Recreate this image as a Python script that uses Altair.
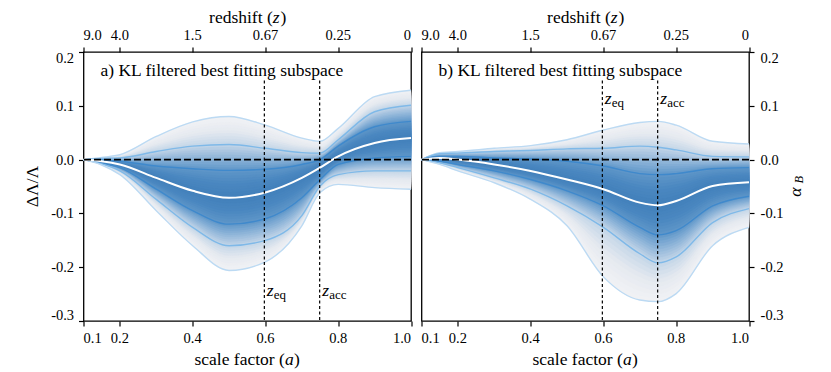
import altair as alt
import pandas as pd

# ---------------- data ----------------
a_vals = [0.1, 0.15, 0.2, 0.3, 0.4, 0.5, 0.6, 0.7, 0.75, 0.8, 0.9, 1.0]

left_u3 = [0.0, 0.004, 0.009, 0.043, 0.070, 0.080, 0.064, 0.040, 0.034, 0.058, 0.117, 0.129]
left_u2 = [0.0, 0.002, 0.003, 0.015, 0.025, 0.028, 0.021, 0.013, 0.012, 0.037, 0.089, 0.101]
left_u1 = [0.0, -0.001, -0.003, -0.012, -0.017, -0.020, -0.018, -0.009, 0.000, 0.025, 0.061, 0.071]
left_med = [0.0, -0.003, -0.009, -0.034, -0.058, -0.071, -0.061, -0.034, -0.015, 0.006, 0.031, 0.040]
left_l1 = [0.0, -0.006, -0.015, -0.055, -0.095, -0.120, -0.110, -0.071, -0.037, -0.009, 0.003, 0.006]
left_l2 = [0.0, -0.008, -0.021, -0.074, -0.126, -0.160, -0.150, -0.104, -0.049, -0.028, -0.021, -0.021]
left_l3 = [0.0, -0.010, -0.028, -0.095, -0.160, -0.206, -0.190, -0.123, -0.061, -0.046, -0.052, -0.055]

right_u3 = [0.0, 0.013, 0.015, 0.021, 0.026, 0.037, 0.055, 0.069, 0.071, 0.064, 0.034, 0.029]
right_u2 = [0.0, 0.011, 0.012, 0.015, 0.017, 0.020, 0.021, 0.025, 0.023, 0.018, 0.006, 0.005]
right_u1 = [0.0, 0.006, 0.006, 0.003, 0.001, -0.003, -0.012, -0.026, -0.028, -0.026, -0.017, -0.015]
right_med = [0.0, 0.003, 0.000, -0.009, -0.021, -0.037, -0.055, -0.080, -0.085, -0.077, -0.049, -0.042]
right_l1 = [0.0, -0.003, -0.009, -0.021, -0.037, -0.058, -0.086, -0.126, -0.140, -0.132, -0.086, -0.068]
right_l2 = [0.0, -0.006, -0.015, -0.034, -0.055, -0.086, -0.126, -0.175, -0.192, -0.181, -0.117, -0.091]
right_l3 = [0.0, -0.009, -0.021, -0.043, -0.074, -0.123, -0.218, -0.261, -0.264, -0.249, -0.160, -0.126]

a_ticks = [0.1, 0.2, 0.4, 0.6, 0.8, 1.0]
a_tick_labels = ["0.1", "0.2", "0.4", "0.6", "0.8", "1.0"]
z_tick_labels = ["9.0", "4.0", "1.5", "0.67", "0.25", "0"]
y_ticks = [-0.3, -0.2, -0.1, 0.0, 0.1, 0.2]
y_tick_labels = ["-0.3", "-0.2", "-0.1", "0.0", "0.1", "0.2"]

a_eq = 0.597
a_acc = 0.749
marker_names = ["eq", "acc"]

# ---------------- styling ----------------
FONT = "Liberation Serif"
W, H = 327.5, 269
LBL = 14.5   # tick label size
TTL = 17.5   # title size
fill_t = [0.0, 0.5, 1.0, 1.5, 2.0, 2.5, 3.0]
fill_c = ["#f1f2f5", "#e6eaf0", "#c4d6e8", "#92b7da", "#6097c9", "#4a87c0", "#4280bb"]
line_colors = {"u3": "#bcdaf3", "u2": "#7fb9e8", "u1": "#3f89cc",
               "l1": "#3f89cc", "l2": "#7fb9e8", "l3": "#bcdaf3"}
STEPS = 10

AX = dict(labels=False, title=None, tickColor="black", tickSize=5, tickWidth=1.2,
          domain=False, grid=False)


def hex2rgb(h):
    h = h.lstrip("#")
    return [int(h[i:i + 2], 16) for i in (0, 2, 4)]


def color_at(t):
    for i in range(len(fill_t) - 1):
        if fill_t[i] <= t <= fill_t[i + 1]:
            f = (t - fill_t[i]) / (fill_t[i + 1] - fill_t[i])
            c0, c1 = hex2rgb(fill_c[i]), hex2rgb(fill_c[i + 1])
            c = [round(c0[k] + f * (c1[k] - c0[k])) for k in range(3)]
            return "#%02x%02x%02x" % tuple(c)
    return fill_c[-1]


xs = alt.Scale(domain=[0.1, 1.0], nice=False, zero=False)
ys = alt.Scale(domain=[-0.3, 0.2], nice=False, zero=False)
XN = dict(scale=xs, axis=None)
YN = dict(scale=ys, axis=None)


def txt(df, size=TTL, italic=False, **kw):
    mk = dict(font=FONT, fontSize=size, color="black")
    if italic:
        mk["fontStyle"] = "italic"
    mk.update(kw)
    return alt.Chart(df).mark_text(**mk)


def x_tick_labels(labels, ypix):
    df = pd.DataFrame({"a": a_ticks, "t": labels})
    out = []
    for part, al in ((df.iloc[:1], "left"), (df.iloc[1:-1], "center"), (df.iloc[-1:], "right")):
        out.append(txt(part, LBL, align=al, baseline="alphabetic").encode(
            x=alt.X("a:Q", **XN), y=alt.value(ypix), text="t:N"))
    return out


def y_tick_label_layers(left):
    df = pd.DataFrame({"v": y_ticks, "t": y_tick_labels})
    out = []
    xpix = -9.4 if left else W + 11.6
    al = "right" if left else "left"
    for part, dy in ((df.iloc[:1], -1.5), (df.iloc[1:-1], 5), (df.iloc[-1:], 11.3)):
        out.append(txt(part, LBL, align=al, baseline="alphabetic", dy=dy).encode(
            x=alt.value(xpix), y=alt.Y("v:Q", **YN), text="t:N"))
    return out


def mixed_title(parts, ypix):
    out = []
    for s, it, xo in parts:
        df = pd.DataFrame({"s": [s]})
        out.append(txt(df, TTL, italic=it, align="left", baseline="alphabetic").encode(
            x=alt.value(xo), y=alt.value(ypix), text="s:N"))
    return out


def panel(cur, title_txt, left, label_y, sub_y):
    u3, u2, u1, med, l1, l2, l3 = cur
    lowers = [l3, l2, l1, med]
    uppers = [u3, u2, u1, med]
    df = pd.DataFrame({"a": a_vals})
    nb = 3 * STEPS
    band_cols = []
    for k in range(nb):
        t = k / STEPS
        i = int(t)
        f = t - i
        df[f"lo{k}"] = [(1 - f) * lowers[i][j] + f * lowers[i + 1][j] for j in range(len(a_vals))]
        df[f"hi{k}"] = [(1 - f) * uppers[i][j] + f * uppers[i + 1][j] for j in range(len(a_vals))]
        band_cols.append(color_at(t + 0.5 / STEPS))

    layers = []
    for k in range(nb):
        enc = dict(x=alt.X("a:Q", **XN), y=alt.Y(f"lo{k}:Q", **YN), y2=f"hi{k}:Q")
        if k == 0:
            enc["x"] = alt.X("a:Q", scale=xs, axis=alt.Axis(orient="bottom", values=a_ticks, **AX))
            enc["y"] = alt.Y(f"lo{k}:Q", scale=ys,
                             axis=alt.Axis(orient=("left" if left else "right"), values=y_ticks, **AX))
        layers.append(alt.Chart(df).mark_area(color=band_cols[k], stroke=band_cols[k], strokeWidth=0.4,
                                              interpolate="monotone").encode(**enc))

    names = ["u3", "u2", "u1", "l1", "l2", "l3"]
    arrs = [u3, u2, u1, l1, l2, l3]
    ldf = pd.DataFrame([{"a": a, "v": v, "name": n} for n, arr in zip(names, arrs) for a, v in zip(a_vals, arr)])
    layers.append(alt.Chart(ldf).mark_line(strokeWidth=1.4, interpolate="monotone").encode(
        x=alt.X("a:Q", **XN), y=alt.Y("v:Q", **YN),
        color=alt.Color("name:N", scale=alt.Scale(domain=names, range=[line_colors[n] for n in names]), legend=None),
        detail="name:N",
    ))
    mdf = pd.DataFrame({"a": a_vals, "m": med})
    layers.append(alt.Chart(mdf).mark_line(color="white", strokeWidth=2, interpolate="monotone").encode(
        x=alt.X("a:Q", **XN), y=alt.Y("m:Q", **YN)))
    zdf = pd.DataFrame({"z0": [0.0]})
    layers.append(alt.Chart(zdf).mark_rule(color="black", strokeWidth=1.6, strokeDash=[7, 3]).encode(
        y=alt.Y("z0:Q", **YN)))
    vdf = pd.DataFrame({"a": [a_eq, a_acc], "top": [0.147, 0.147], "bot": [-0.3, -0.3],
                        "sub": marker_names, "zt": ["z", "z"],
                        "ly": [label_y, label_y], "sy": [sub_y, sub_y]})
    layers.append(alt.Chart(vdf).mark_rule(color="black", strokeWidth=1.2, strokeDash=[3, 2.5]).encode(
        x=alt.X("a:Q", scale=xs, axis=alt.Axis(orient="top", values=a_ticks, **AX)),
        y=alt.Y("top:Q", **YN), y2="bot:Q"))
    layers.append(txt(vdf, TTL, italic=True, align="left", baseline="alphabetic", dx=2.5).encode(
        x=alt.X("a:Q", **XN), y=alt.Y("ly:Q", **YN), text="zt:N"))
    layers.append(txt(vdf, 13, align="left", baseline="alphabetic", dx=9.5).encode(
        x=alt.X("a:Q", **XN), y=alt.Y("sy:Q", **YN), text="sub:N"))
    tdf = pd.DataFrame({"t": [title_txt]})
    layers.append(txt(tdf, TTL, align="left", baseline="alphabetic").encode(
        x=alt.value(17), y=alt.value(23.5), text="t:N"))

    layers += x_tick_labels(a_tick_labels, H + 22.3)
    layers += x_tick_labels(z_tick_labels, -12.5)
    layers += y_tick_label_layers(left)
    layers += mixed_title([("redshift (", False, 125.6), ("z", True, 189.3), (")", False, 196.9)], -29)
    layers += mixed_title([("scale factor (", False, 111.0), ("a", True, 201.4), (")", False, 210.5)], H + 44)
    if left:
        ydf = pd.DataFrame({"s": ["ΔΛ/Λ"]})
        layers.append(txt(ydf, TTL, angle=270, align="center", baseline="middle").encode(
            x=alt.value(-51), y=alt.value(H / 2), text="s:N"))
    else:
        adf = pd.DataFrame({"g": ["α"], "s": ["B"]})
        layers.append(txt(adf, TTL, italic=True, angle=270, align="center", baseline="middle").encode(
            x=alt.value(W + 47), y=alt.value(H / 2 + 5.7), text="g:N"))
        layers.append(txt(adf, 12.5, italic=True, angle=270, align="center", baseline="middle").encode(
            x=alt.value(W + 50), y=alt.value(H / 2 - 6.8), text="s:N"))

    return alt.layer(*layers).resolve_axis(x="independent", y="independent").properties(width=W, height=H)


left_panel = panel([left_u3, left_u2, left_u1, left_med, left_l1, left_l2, left_l3],
                   "a) KL filtered best fitting subspace", True, -0.2535, -0.259)
right_panel = panel([right_u3, right_u2, right_u1, right_med, right_l1, right_l2, right_l3],
                    "b) KL filtered best fitting subspace", False, 0.103, 0.097)

chart = alt.hconcat(left_panel, right_panel, spacing=0).configure_view(
    stroke="black", strokeWidth=1.3
).properties(background="white", padding={"top": 0, "left": 14.5, "right": 0, "bottom": 0})

chart.save("out.html", embed_options={"renderer": "svg", "actions": False})
